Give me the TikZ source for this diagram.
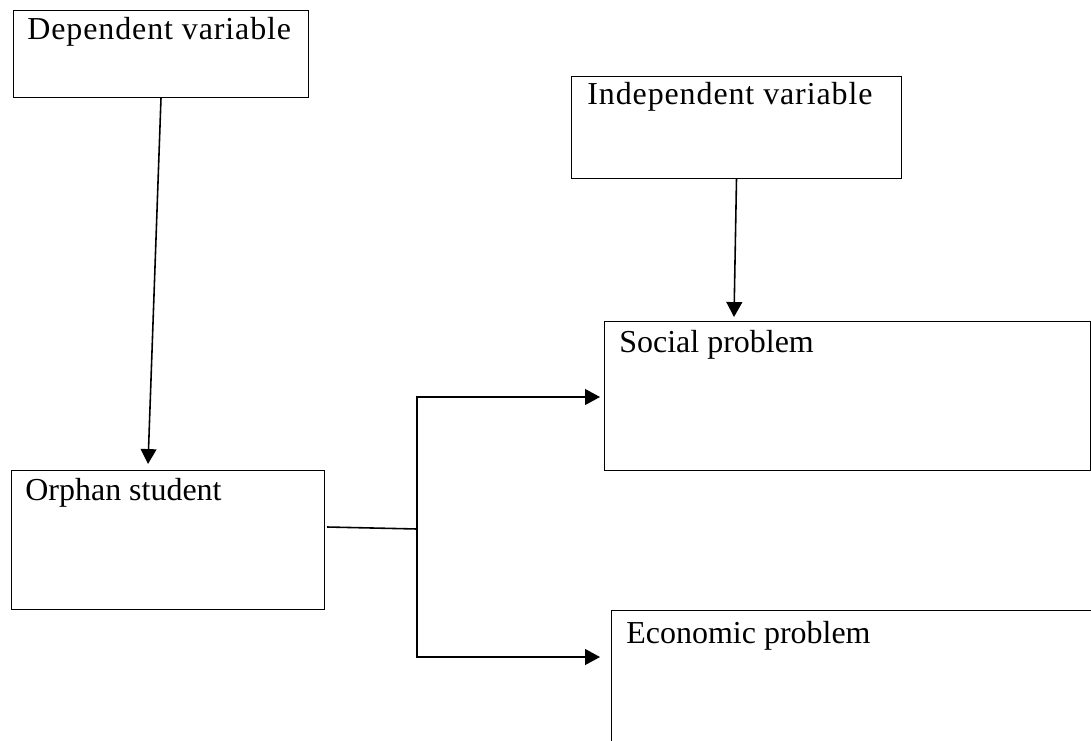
\documentclass[tikz,border=0pt]{standalone}
\usepackage{fontspec}
\setmainfont{Liberation Serif}
\usetikzlibrary{arrows.meta}

\tikzset{
  box/.style={draw, line width=0.6pt, inner sep=0pt, anchor=north west},
  boxtext/.style={anchor=base west, inner sep=0pt, font=\fontsize{18.2}{20}\selectfont},
  widetext/.style={boxtext, font=\fontsize{18.2}{20}\selectfont\addfontfeatures{LetterSpace=2.8}},
  conn/.style={line width=0.9pt, -{Triangle[length=8.5pt,width=9pt]}},
  plain/.style={line width=0.9pt}
}

\begin{document}
\begin{tikzpicture}[x=0.02cm,y=-0.02cm]
    \useasboundingbox (0,0) rectangle (1091,740);
    \clip (0,0) rectangle (1091,740);

    % boxes
    \node[box, minimum width=5.9cm, minimum height=1.74cm] (dep) at (13,10) {};
    \node[box, minimum width=6.6cm, minimum height=2.04cm] (ind) at (571,76) {};
    \node[box, minimum width=6.26cm, minimum height=2.78cm] (orph) at (11,470) {};
    \node[box, minimum width=9.72cm, minimum height=2.98cm] (soc) at (604,321) {};
    \node[box, minimum width=12cm, minimum height=4cm] (eco) at (611,610) {};

    \node[widetext] (deplabel) at ([shift={(14,30)}]dep.north west) {Dependent variable};
    \node[widetext] (indlabel) at ([shift={(16,29)}]ind.north west) {Independent variable};
    \node[boxtext] (orphlabel) at ([shift={(14,30)}]orph.north west) {Orphan student};
    \node[boxtext] (soclabel) at ([shift={(15,31)}]soc.north west) {Social problem};
    \node[boxtext] (ecolabel) at ([shift={(15,33)}]eco.north west) {Economic problem};

    % connectors
    \coordinate (orphin) at (148,464);
    \coordinate (socdrop) at (734,317);
    \coordinate (orphout) at (327,527);
    \coordinate (split) at (417,529);
    \coordinate (socin) at (600,397);
    \coordinate (ecoin) at (600,657);

    \draw[conn] (dep.south) -- (orphin);
    \draw[conn] (ind.south) -- (socdrop);
    \draw[plain] (orphout) -- (split);
    \draw[conn] (split) |- (socin);
    \draw[conn] (split) |- (ecoin);
\end{tikzpicture}
\end{document}
